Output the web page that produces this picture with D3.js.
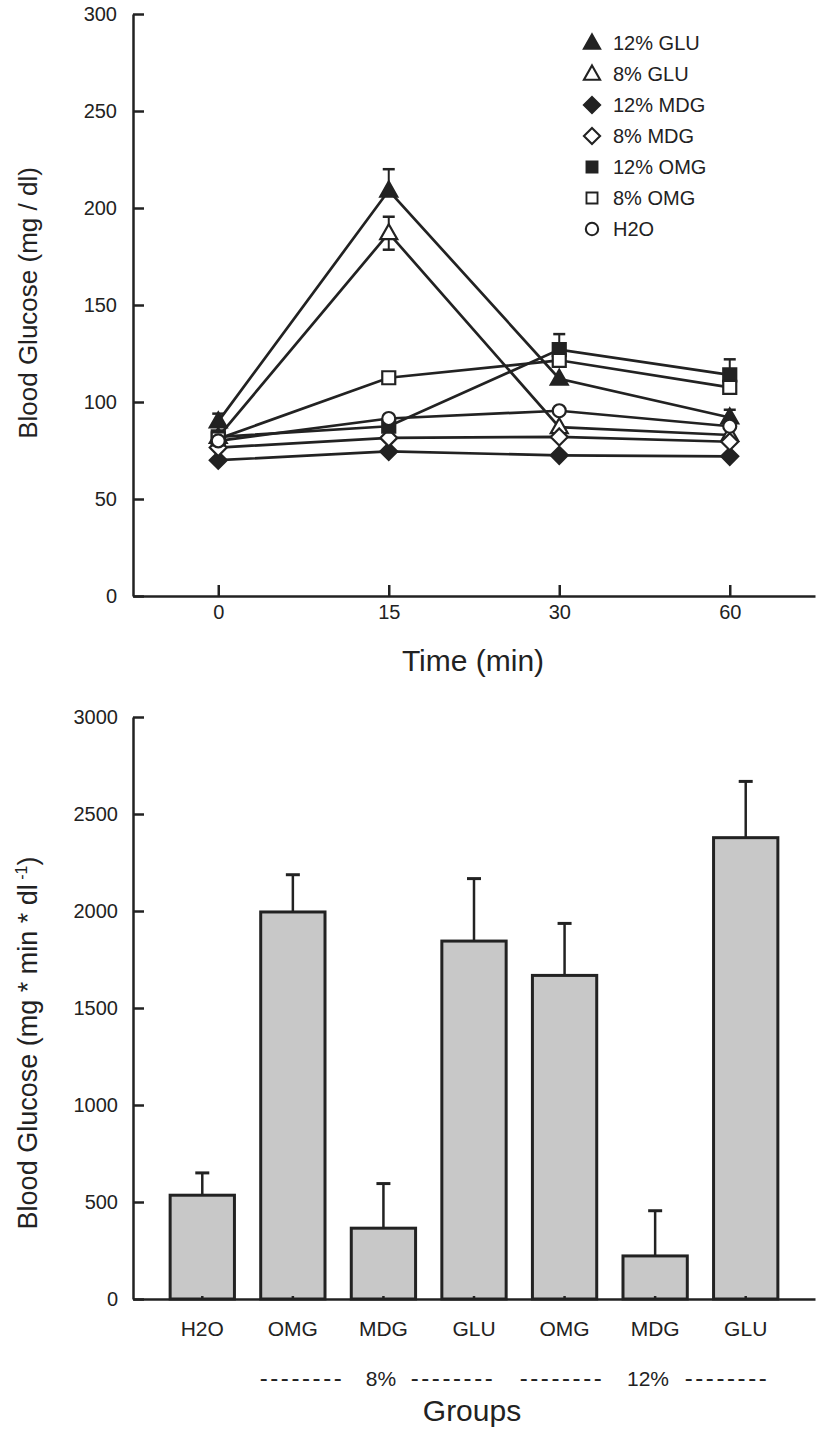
<!DOCTYPE html>
<html>
<head>
<meta charset="utf-8">
<script src="https://cdn.jsdelivr.net/npm/d3@7"></script>
<style>
  body { margin: 0; background: #fff; }
  svg { display: block; font-family: "Liberation Sans", Arial, sans-serif; }
  .axis path, .axis line { stroke: #222; stroke-width: 2.5; }
</style>
</head>
<body>
<svg id="chart"></svg>
<script>
// time course data (top panel)
var times = [0, 15, 30, 60];
var seriesNames = ["12% GLU", "8% GLU", "12% MDG", "8% MDG", "12% OMG", "8% OMG", "H2O"];
var seriesShapes = ["triangle", "triangle", "diamond", "diamond", "square", "square", "circle"];
var seriesFilled = [true, false, true, false, true, false, false];
var glu12 = [90, 209, 112, 92];
var glu8 = [82, 187, 87, 83];
var mdg12 = [70, 74.5, 72.5, 72];
var mdg8 = [76.5, 81.5, 82, 79.5];
var omg12 = [82, 87.5, 127, 114];
var omg8 = [81, 112.5, 121.5, 107.5];
var h2o = [80, 91.5, 95.5, 87.5];
var errUp = [[4, 11, 0, 4], [0, 8.5, 0, 0], [0, 0, 0, 0], [0, 0, 0, 0], [0, 0, 8, 8], [0, 0, 0, 0], [0, 0, 0, 0]];
var errDown = [[0, 0, 0, 0], [0, 8.5, 0, 0], [0, 0, 0, 0], [0, 0, 0, 0], [0, 0, 0, 0], [0, 0, 0, 0], [0, 0, 0, 0]];
var yTicksTop = [0, 50, 100, 150, 200, 250, 300];

// AUC data (bottom panel)
var groups = ["H2O", "OMG", "MDG", "GLU", "OMG ", "MDG ", "GLU "];
var aucVals = [535, 1995, 365, 1845, 1668, 222, 2378];
var aucErr = [115, 192, 230, 322, 268, 233, 290];
var yTicksBottom = [0, 500, 1000, 1500, 2000, 2500, 3000];

var allSeries = [glu12, glu8, mdg12, mdg8, omg12, omg8, h2o];
var ink = "#222";

var svg = d3.select("#chart").attr("width", 819).attr("height", 1431);

// marker path by shape
var marker = function(shape)
{
  if (shape == "triangle") return "M0,-9L8.5,6L-8.5,6Z";
  if (shape == "diamond") return "M0,-8.5L8.5,0L0,8.5L-8.5,0Z";
  if (shape == "square") return "M-6.5,-6.5H6.5V6.5H-6.5Z";
  return d3.arc()({innerRadius: 0, outerRadius: 6.5, startAngle: 0, endAngle: 2 * Math.PI});
}

var styleAxis = function(g, size)
{
  g.selectAll("text").attr("font-size", size).attr("fill", ink)
   .attr("font-family", "Liberation Sans, Arial, sans-serif");
}

//---------- top panel ----------
var xScale = d3.scalePoint().domain(times).range([133, 815]).padding(0.5);
var yScale = d3.scaleLinear().domain([0, 300]).range([596, 14]);

svg.append("g").classed("axis", true)
   .attr("transform", "translate(133,0)")
   .call(d3.axisLeft(yScale).tickValues(yTicksTop).tickSizeInner(-11).tickSizeOuter(0).tickPadding(16))
   .call(styleAxis, 20);

svg.append("g").classed("axis", true)
   .attr("transform", "translate(0,596)")
   .call(d3.axisBottom(xScale).tickSizeInner(-11).tickSizeOuter(0).tickPadding(9))
   .call(styleAxis, 20);

var line = d3.line()
             .x(function(d, i) { return xScale(times[i]); })
             .y(function(d) { return yScale(d); });

var plot = svg.append("g").classed("plot", true);

// error bars
allSeries.forEach(function(s, k)
{
  s.forEach(function(v, i)
  {
    var x = xScale(times[i]);
    if (errUp[k][i] > 0) {
      plot.append("line").attr("x1", x).attr("x2", x).attr("y1", yScale(v)).attr("y2", yScale(v + errUp[k][i]))
          .attr("stroke", ink).attr("stroke-width", 2);
      plot.append("line").attr("x1", x - 6).attr("x2", x + 6).attr("y1", yScale(v + errUp[k][i])).attr("y2", yScale(v + errUp[k][i]))
          .attr("stroke", ink).attr("stroke-width", 2.5);
    }
    if (errDown[k][i] > 0) {
      plot.append("line").attr("x1", x).attr("x2", x).attr("y1", yScale(v)).attr("y2", yScale(v - errDown[k][i]))
          .attr("stroke", ink).attr("stroke-width", 2);
      plot.append("line").attr("x1", x - 6).attr("x2", x + 6).attr("y1", yScale(v - errDown[k][i])).attr("y2", yScale(v - errDown[k][i]))
          .attr("stroke", ink).attr("stroke-width", 2.5);
    }
  });
});

plot.selectAll("path.series")
    .data(allSeries)
    .enter()
    .append("path")
    .classed("series", true)
    .attr("d", line)
    .attr("fill", "none")
    .attr("stroke", ink)
    .attr("stroke-width", 2.7);

allSeries.forEach(function(s, k)
{
  plot.selectAll("path.m" + k)
      .data(s)
      .enter()
      .append("path")
      .classed("m" + k, true)
      .attr("d", marker(seriesShapes[k]))
      .attr("transform", function(d, i) { return "translate(" + xScale(times[i]) + "," + yScale(d) + ")"; })
      .attr("fill", seriesFilled[k] ? ink : "#fff")
      .attr("stroke", ink)
      .attr("stroke-width", 2.2);
});

// legend
var legend = svg.append("g").classed("legend", true).attr("transform", "translate(592,43)");
var legendLines = legend.selectAll("g")
                        .data(seriesNames)
                        .enter()
                        .append("g")
                        .attr("transform", function(d, i) { return "translate(0," + (i * 31) + ")"; });
legendLines.append("path")
           .attr("d", function(d, i) { return marker(seriesShapes[i]); })
           .attr("transform", function(d, i) { return seriesShapes[i] == "square" ? "scale(0.85)" : "scale(0.95)"; })
           .attr("fill", function(d, i) { return seriesFilled[i] ? ink : "#fff"; })
           .attr("stroke", ink)
           .attr("stroke-width", 2.2);
legendLines.append("text")
           .attr("x", 21)
           .attr("y", 7)
           .attr("font-size", 20)
           .attr("fill", ink)
           .text(function(d) { return d; });

svg.append("text")
   .attr("transform", "translate(37,303) rotate(-90)")
   .attr("text-anchor", "middle")
   .attr("font-size", 26)
   .attr("fill", ink)
   .text("Blood Glucose (mg / dl)");

svg.append("text")
   .attr("x", 473)
   .attr("y", 671)
   .attr("text-anchor", "middle")
   .attr("font-size", 30)
   .attr("fill", ink)
   .text("Time (min)");

//---------- bottom panel ----------
var xBand = d3.scaleBand().domain(groups).range([133, 815]).paddingInner(0.29).paddingOuter(0.41);
var yBar = d3.scaleLinear().domain([0, 3000]).range([1299, 717]);

var bars = svg.append("g").classed("bars", true);

bars.selectAll("line.err")
    .data(aucVals)
    .enter()
    .append("line")
    .classed("err", true)
    .attr("x1", function(d, i) { return xBand(groups[i]) + xBand.bandwidth() / 2; })
    .attr("x2", function(d, i) { return xBand(groups[i]) + xBand.bandwidth() / 2; })
    .attr("y1", function(d) { return yBar(d); })
    .attr("y2", function(d, i) { return yBar(d + aucErr[i]); })
    .attr("stroke", ink)
    .attr("stroke-width", 2.5);

bars.selectAll("line.cap")
    .data(aucVals)
    .enter()
    .append("line")
    .classed("cap", true)
    .attr("x1", function(d, i) { return xBand(groups[i]) + xBand.bandwidth() / 2 - 7; })
    .attr("x2", function(d, i) { return xBand(groups[i]) + xBand.bandwidth() / 2 + 7; })
    .attr("y1", function(d, i) { return yBar(d + aucErr[i]); })
    .attr("y2", function(d, i) { return yBar(d + aucErr[i]); })
    .attr("stroke", ink)
    .attr("stroke-width", 3);

bars.selectAll("rect")
    .data(aucVals)
    .enter()
    .append("rect")
    .attr("x", function(d, i) { return xBand(groups[i]); })
    .attr("y", function(d) { return yBar(d); })
    .attr("width", xBand.bandwidth())
    .attr("height", function(d) { return yBar(0) - yBar(d); })
    .attr("fill", "#c8c8c8")
    .attr("stroke", ink)
    .attr("stroke-width", 3);

svg.append("g").classed("axis", true)
   .attr("transform", "translate(133,0)")
   .call(d3.axisLeft(yBar).tickValues(yTicksBottom).tickFormat(d3.format("d"))
           .tickSizeInner(-11).tickSizeOuter(0).tickPadding(15))
   .call(styleAxis, 20);

svg.append("g").classed("axis", true)
   .attr("transform", "translate(0,1299)")
   .call(d3.axisBottom(xBand).tickSizeInner(-3).tickSizeOuter(0).tickPadding(22)
           .tickFormat(function(d) { return d.trim(); }))
   .call(styleAxis, 21);

var groupLine = svg.append("g").attr("font-size", 21).attr("fill", ink).attr("text-anchor", "middle");
var dashes = "--------";
var dashLabel = function(x, txt)
{
  groupLine.append("text").attr("x", x).attr("y", 1386).attr("font-size", 24)
           .attr("letter-spacing", 2.6).text(txt);
}
dashLabel(302, dashes);
groupLine.append("text").attr("x", 381).attr("y", 1386).text("8%");
dashLabel(453, dashes);
dashLabel(562, dashes);
groupLine.append("text").attr("x", 648).attr("y", 1386).text("12%");
dashLabel(727, dashes);

svg.append("text")
   .attr("x", 472)
   .attr("y", 1421)
   .attr("text-anchor", "middle")
   .attr("font-size", 30)
   .attr("fill", ink)
   .text("Groups");

var yLab = svg.append("text")
   .attr("transform", "translate(37,1043) rotate(-90)")
   .attr("text-anchor", "middle")
   .attr("font-size", 27)
   .attr("fill", ink);
yLab.append("tspan").text("Blood Glucose (mg * min * dl");
yLab.append("tspan").attr("font-size", 16).attr("dy", -10).text(" -1");
yLab.append("tspan").attr("dy", 10).text(")");
</script>
</body>
</html>
